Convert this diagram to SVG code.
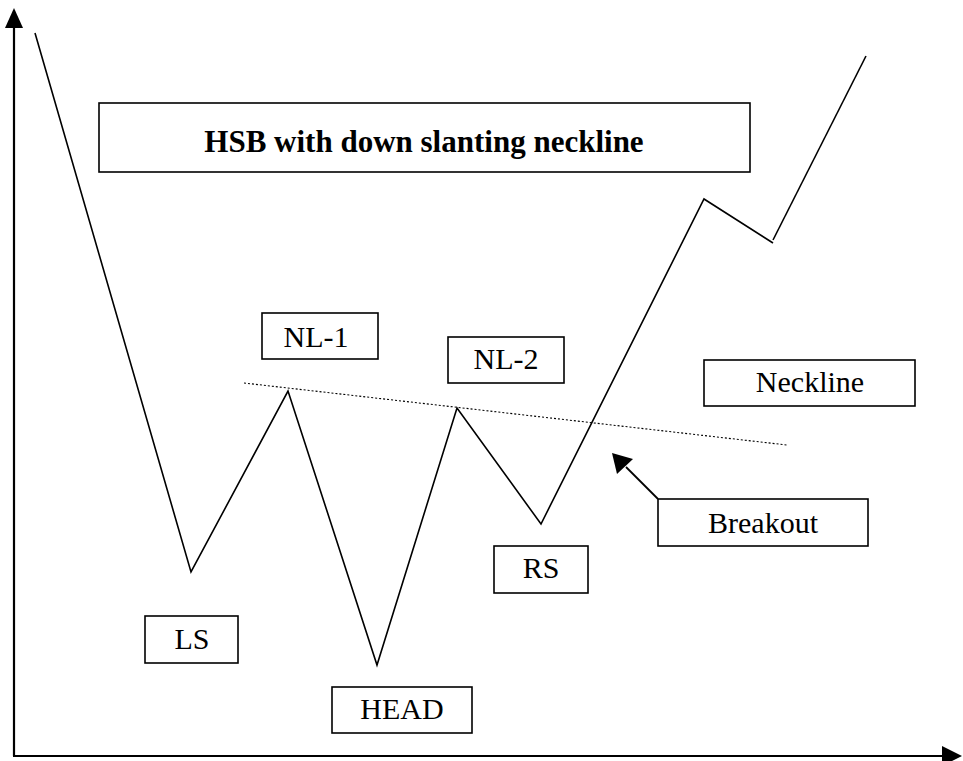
<svg xmlns="http://www.w3.org/2000/svg" width="963" height="761" viewBox="0 0 963 761">
<style>
.box{fill:#fff;stroke:#000;stroke-width:1.6}
.lbl{font-family:"Liberation Serif","Times New Roman",serif;font-size:30px;fill:#000;text-anchor:middle}
.ttl{font-weight:bold;font-size:31px}
.price{fill:none;stroke:#000;stroke-width:1.6;stroke-linejoin:miter}
.axis{fill:none;stroke:#000;stroke-width:2.2}
.neck{fill:none;stroke:#000;stroke-width:1.1;stroke-dasharray:2 2}
</style>
<rect width="963" height="761" fill="#fff"/>
<g id="connectors">
<path class="axis" d="M14,756 V26"/>
<path d="M14,8 L5,28 L23,28 Z" fill="#000"/>
<path class="axis" d="M13,756 H944"/>
<path d="M962,756 L942,746 L942,766 Z" fill="#000"/>
<polyline class="price" points="35,33 191,572 288,391 377,665 457,408 541,524 704,199 773,243"/>
<polyline class="price" points="773,240 866,56"/>
<line class="neck" x1="244" y1="383" x2="787" y2="445"/>
<line x1="658" y1="499" x2="626" y2="467" stroke="#000" stroke-width="1.8"/>
<path d="M612,453 L617,474 L633,459 Z" fill="#000"/>
</g>
<g id="title">
<rect class="box" x="99" y="103" width="651" height="69"/>
<text class="lbl ttl" x="424" y="152">HSB with down slanting neckline</text>
</g>
<g id="nl1">
<rect class="box" x="262" y="313" width="116" height="46"/>
<text class="lbl" x="316" y="347">NL-1</text>
</g>
<g id="nl2">
<rect class="box" x="448" y="337" width="116" height="46"/>
<text class="lbl" x="506" y="369">NL-2</text>
</g>
<g id="neckline">
<rect class="box" x="704" y="360" width="211" height="46"/>
<text class="lbl" x="810" y="392">Neckline</text>
</g>
<g id="breakout">
<rect class="box" x="658" y="499" width="210" height="47"/>
<text class="lbl" x="763" y="533">Breakout</text>
</g>
<g id="rs">
<rect class="box" x="494" y="546" width="94" height="47"/>
<text class="lbl" x="541" y="578">RS</text>
</g>
<g id="ls">
<rect class="box" x="145" y="616" width="93" height="47"/>
<text class="lbl" x="192" y="649">LS</text>
</g>
<g id="head">
<rect class="box" x="332" y="687" width="140" height="46"/>
<text class="lbl" x="402" y="719">HEAD</text>
</g>
</svg>
